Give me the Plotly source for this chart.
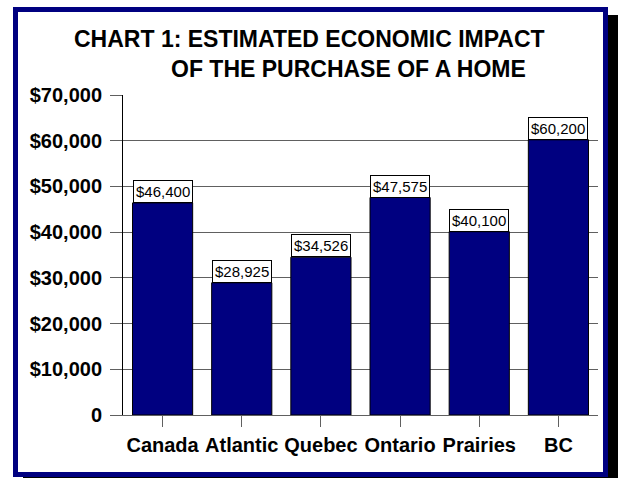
import plotly.graph_objects as go

categories = ["Canada", "Atlantic", "Quebec", "Ontario", "Prairies", "BC"]
values = [46400, 28925, 34526, 47575, 40100, 60200]
value_labels = ["$46,400", "$28,925", "$34,526", "$47,575", "$40,100", "$60,200"]
ytick_vals = [0, 10000, 20000, 30000, 40000, 50000, 60000, 70000]
ytick_text = ["0", "$10,000", "$20,000", "$30,000", "$40,000", "$50,000", "$60,000", "$70,000"]
title_line1 = "CHART 1: ESTIMATED ECONOMIC IMPACT"
title_line2 = "OF THE PURCHASE OF A HOME"

W, H = 618, 478
L, R, T, B = 123, 598, 95, 415  # plot area in pixels


def px(x):
    return (x - L) / (R - L)


def py(y):
    return (B - y) / (B - T)


FONT = "Arial, Liberation Sans, sans-serif"

fig = go.Figure()
fig.add_trace(go.Bar(
    x=categories, y=values,
    marker=dict(color="#000080", line=dict(color="black", width=1)),
    hoverinfo="skip",
))

annotations = []
for c, v, t in zip(categories, values, value_labels):
    annotations.append(dict(
        x=c, y=v, xref="x", yref="y", text=t, showarrow=False,
        yanchor="bottom", xanchor="center",
        font=dict(family=FONT, size=15, color="black"),
        bgcolor="white", bordercolor="black", borderwidth=1, borderpad=2,
    ))

annotations.append(dict(
    x=px(309), y=py(39), xref="paper", yref="paper", text=title_line1,
    showarrow=False, xanchor="center", yanchor="middle",
    font=dict(family=FONT, size=23, color="black", weight="bold"),
))
annotations.append(dict(
    x=px(348), y=py(69), xref="paper", yref="paper", text=title_line2,
    showarrow=False, xanchor="center", yanchor="middle",
    font=dict(family=FONT, size=23, color="black", weight="bold"),
))

shapes = [
    # drop shadow
    dict(type="rect", xref="paper", yref="paper", layer="below",
         x0=px(23), x1=px(630), y0=py(15), y1=py(490),
         fillcolor="black", line=dict(width=0)),
    # navy frame
    dict(type="rect", xref="paper", yref="paper", layer="below",
         x0=px(15.5), x1=px(605.5), y0=py(9.5), y1=py(474.5),
         fillcolor="white", line=dict(color="#000080", width=5)),
]

fig.update_layout(
    width=W, height=H,
    margin=dict(l=L, r=W - R, t=T, b=H - B, pad=0),
    paper_bgcolor="white", plot_bgcolor="rgba(0,0,0,0)",
    showlegend=False, bargap=0.24,
    annotations=annotations, shapes=shapes,
    font=dict(family=FONT, color="black"),
    xaxis=dict(
        showgrid=False, showline=True, linecolor="#606060", linewidth=1,
        ticks="outside", ticklen=11, tickcolor="#606060", tickwidth=1,
        tickfont=dict(family=FONT, size=20, color="black", weight="bold"),
        ticklabelstandoff=1, fixedrange=True,
    ),
    yaxis=dict(
        range=[0, 70000], tickvals=ytick_vals, ticktext=ytick_text,
        showgrid=True, gridcolor="#606060", gridwidth=1,
        showline=True, linecolor="black", linewidth=1,
        ticks="outside", ticklen=12, tickcolor="#606060", tickwidth=1,
        tickfont=dict(family=FONT, size=20, color="black", weight="bold"),
        ticklabelstandoff=4,
        zeroline=False, fixedrange=True,
    ),
)

fig.write_html("out.html", config=dict(displayModeBar=False))
